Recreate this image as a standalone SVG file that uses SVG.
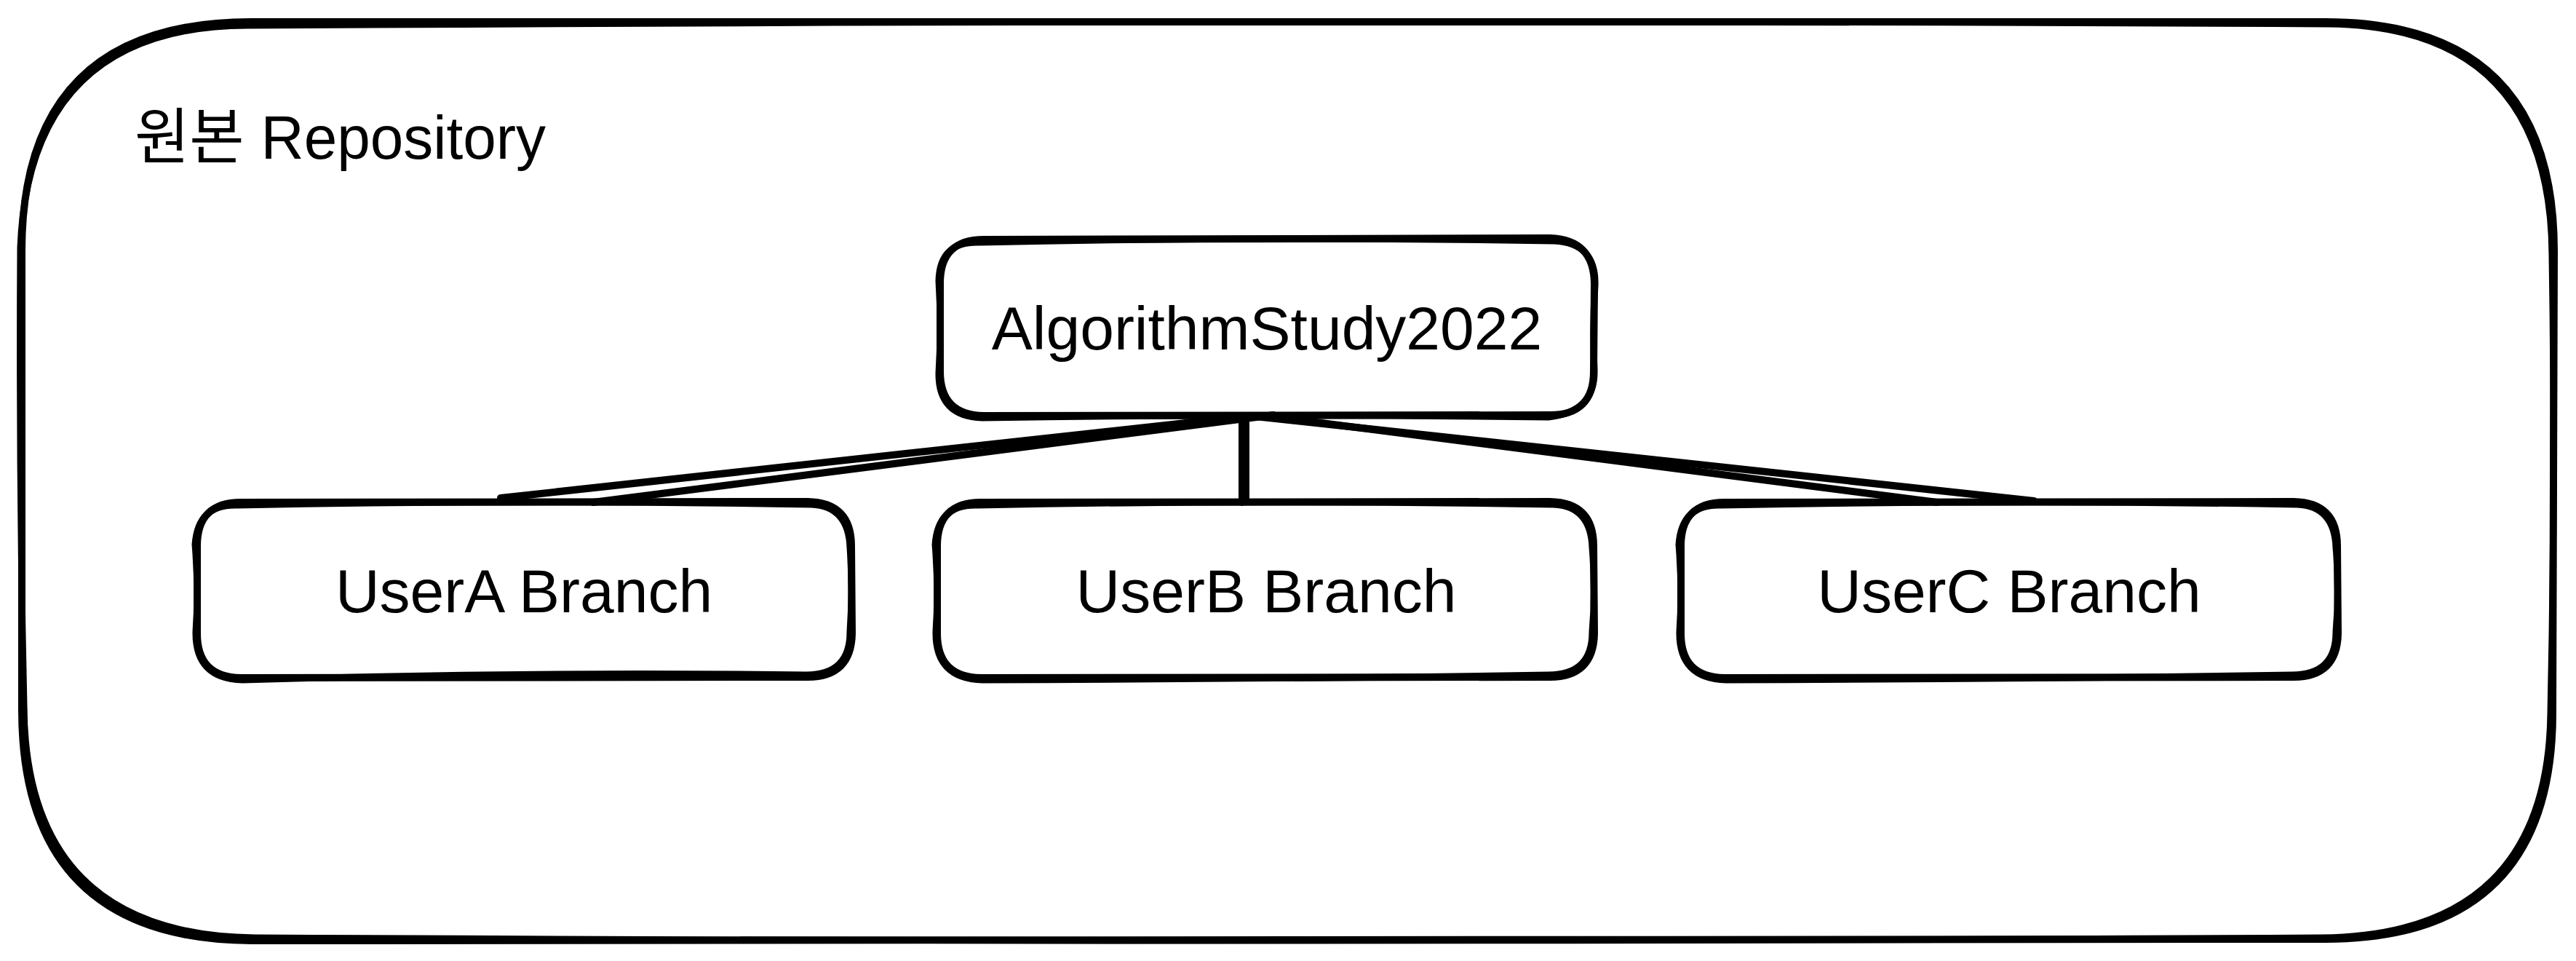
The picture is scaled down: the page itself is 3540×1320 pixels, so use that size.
<svg xmlns="http://www.w3.org/2000/svg" width="3540" height="1320" viewBox="0 0 3540 1320">
  <style>
    .sk { fill: none; stroke: #000; stroke-width: 10; stroke-linecap: round; stroke-linejoin: round; }
    .sk2 { fill: none; stroke: #000; stroke-width: 9; stroke-linecap: round; stroke-linejoin: round; }
    .edge { fill: none; stroke: #000; stroke-width: 10; stroke-linecap: round; }
    .lbl { font-family: "Liberation Sans", Arial, Helvetica, "Noto Sans CJK KR", sans-serif; font-size: 84px; fill: #000; }
    .mid { text-anchor: middle; }
  </style>
  <rect width="3540" height="1320" fill="#fff"/>

  <!-- repository frame -->
  <g id="repository">
    <path class="sk" d="M345,30 L3195,30 Q3510,30 3510,345 L3508,975 Q3510,1290 3195,1290 L345,1292 Q30,1290 30,975 L30,345 Q30,30 345,30 Z"/>
    <path class="sk2" d="M340,35 Q1770,26 3200,33 Q3505,37 3507,350 Q3512,660 3505,980 Q3501,1285 3190,1288 Q1770,1296 350,1288 Q35,1284 33,970 Q26,660 28,340 Q40,36 340,35"/>
    <text class="lbl" x="185" y="218" textLength="565" lengthAdjust="spacingAndGlyphs">원본 Repository</text>
  </g>

  <!-- connectors from the main repository to each branch -->
  <g id="connectors">
    <path class="edge" d="M1702,573 L688,684"/>
    <path class="edge" d="M1750,570 L815,690"/>
    <path class="edge" d="M1707,574 L1707,690"/>
    <path class="edge" d="M1712,572 L1712,689"/>
    <path class="edge" d="M1716,571 L2795,688"/>
    <path class="edge" d="M1762,574 L2662,690"/>
  </g>

  <g id="main">
    <path class="sk" d="M1352,329 L2130,327 Q2190,329 2191,389 L2190,510 Q2190,570 2130,570 L1352,571 Q1292,570 1292,510 L1292,389 Q1292,329 1352,329 Z"/>
    <path class="sk2" d="M1346,333 Q1740,324 2136,331 Q2194,334 2192,392 Q2188,450 2191,507 Q2193,566 2128,573 Q1740,568 1350,574 Q1289,572 1290,512 Q1294,450 1290,386 Q1291,331 1346,333"/>
    <text class="lbl mid" x="1741" y="480">AlgorithmStudy2022</text>
  </g>

  <g id="userA">
    <path class="sk" d="M331,690 L1110,689 Q1170,690 1170,750 L1171,870 Q1170,930 1110,930 L331,931 Q271,930 271,870 L271,750 Q271,690 331,690 Z"/>
    <path class="sk2" d="M326,694 Q720,686 1115,693 Q1166,695 1168,752 Q1172,810 1168,868 Q1168,927 1108,927 Q720,922 333,934 Q268,932 269,868 Q273,810 268,748 Q272,692 326,694"/>
    <text class="lbl mid" x="720" y="841">UserA Branch</text>
  </g>

  <g id="userB">
    <path class="sk" d="M1348,690 L2130,689 Q2190,690 2190,750 L2191,870 Q2190,930 2130,930 L1348,931 Q1288,930 1288,870 L1288,750 Q1288,690 1348,690 Z"/>
    <path class="sk2" d="M1343,694 Q1740,686 2135,693 Q2186,695 2188,752 Q2193,810 2188,868 Q2188,927 2128,927 Q1740,933 1350,934 Q1285,932 1286,868 Q1290,810 1285,748 Q1289,692 1343,694"/>
    <text class="lbl mid" x="1740" y="841">UserB Branch</text>
  </g>

  <g id="userC">
    <path class="sk" d="M2370,690 L3152,689 Q3212,690 3212,750 L3213,870 Q3212,930 3152,930 L2370,931 Q2310,930 2310,870 L2310,750 Q2310,690 2370,690 Z"/>
    <path class="sk2" d="M2365,694 Q2760,686 3157,693 Q3208,695 3210,752 Q3215,810 3210,868 Q3210,927 3150,927 Q2760,933 2372,934 Q2307,932 2308,868 Q2312,810 2307,748 Q2311,692 2365,694"/>
    <text class="lbl mid" x="2761" y="841">UserC Branch</text>
  </g>
</svg>
